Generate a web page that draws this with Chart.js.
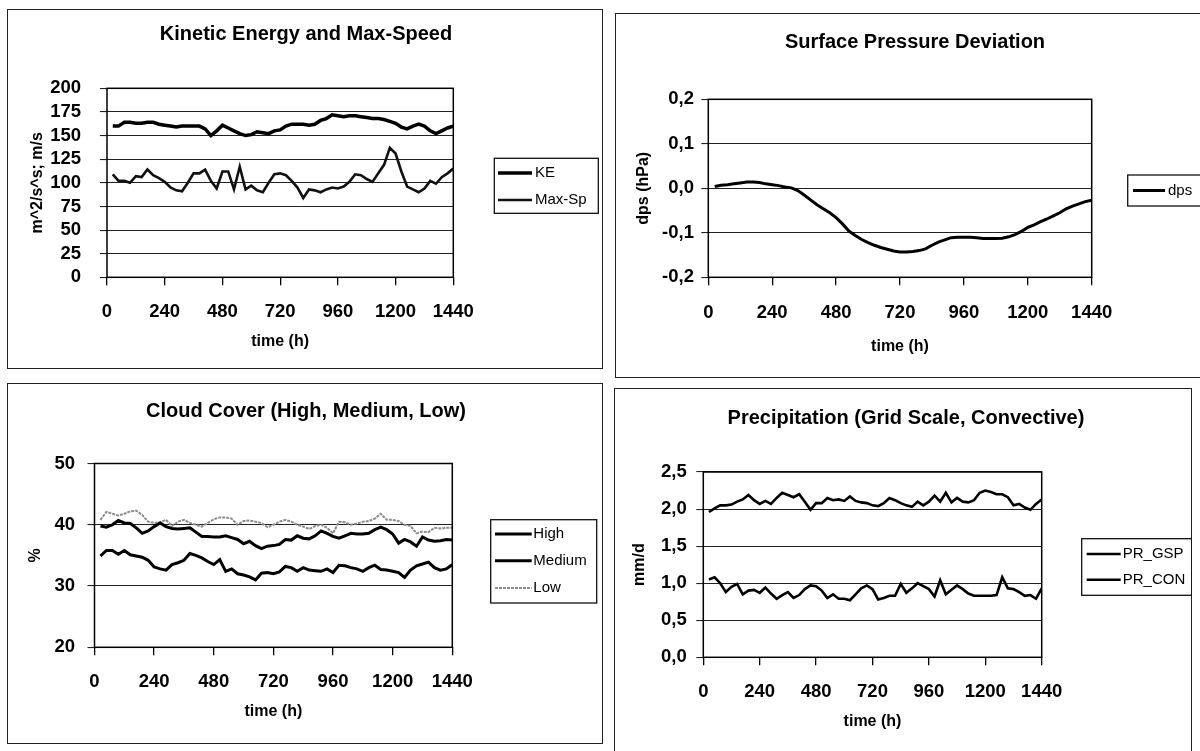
<!DOCTYPE html>
<html>
<head>
<meta charset="utf-8">
<script src="https://cdn.jsdelivr.net/npm/chart.js@4/dist/chart.umd.min.js"></script>
<style>
html,body{margin:0;padding:0;background:#fff;overflow:hidden}
body{width:1200px;height:751px;position:relative}
.painel{position:absolute;border:1.5px solid #222;box-sizing:border-box}
canvas{position:absolute}
</style>
</head>
<body>

<div class="painel" style="left:7px;top:9px;width:596px;height:360px"></div>
<div class="painel" style="left:615px;top:13px;width:600px;height:365px"></div>
<div class="painel" style="left:7px;top:383px;width:596px;height:361px"></div>
<div class="painel" style="left:614px;top:388px;width:578px;height:380px"></div>

<canvas id="graficoEnergia" width="596" height="360" style="left:7px;top:9px"></canvas>
<canvas id="graficoPressao" width="600" height="365" style="left:615px;top:13px"></canvas>
<canvas id="graficoNuvens" width="596" height="361" style="left:7px;top:383px"></canvas>
<canvas id="graficoPrecip" width="578" height="380" style="left:614px;top:388px"></canvas>

<script>

// tempo (h) - um ponto por dia
const tempo=[24,48,72,96,120,144,168,192,216,240,264,288,312,336,360,384,408,432,456,480,
504,528,552,576,600,624,648,672,696,720,744,768,792,816,840,864,888,912,936,960,
984,1008,1032,1056,1080,1104,1128,1152,1176,1200,1224,1248,1272,1296,1320,1344,1368,1392,1416,1440]

const ticksTempo=[0,240,480,720,960,1200,1440]
const ticksEnergia=[0,25,50,75,100,125,150,175,200]
const ticksPressao=[-0.2,-0.1,0,0.1,0.2]
const ticksNuvens=[20,30,40,50]
const ticksPrecip=[0,0.5,1,1.5,2,2.5]

// Kinetic Energy and Max-Speed
const energiaKE=[160,160,164,164,163,163,164,164,162,161,
160,159,160,160,160,160,157,150,155,161,
158,155,152,150,151,154,153,152,155,156,
160,162,162,162,161,162,166,168,172,171,
170,171,171,170,169,168,168,167,165,163,
159,157,160,162,160,155,152,155,158,160]

const maxSpeed=[109,102,102,100,107,106,114,108,105,101,
95,92,91,100,110,110,114,102,94,112,
112,93,117,93,97,92,90,100,109,110,
108,102,95,84,93,92,90,93,95,94,
96,101,109,108,104,101,110,119,137,131,
112,96,93,90,94,102,99,106,110,115]

// Surface Pressure Deviation
const dps=[0.004,0.007,0.008,0.010,0.012,0.014,0.014,0.013,0.010,0.008,
0.006,0.003,0.001,-0.005,-0.015,-0.026,-0.037,-0.046,-0.055,-0.066,
-0.080,-0.096,-0.106,-0.115,-0.122,-0.128,-0.133,-0.137,-0.141,-0.143,
-0.143,-0.142,-0.140,-0.136,-0.128,-0.121,-0.116,-0.111,-0.110,-0.110,
-0.110,-0.111,-0.113,-0.113,-0.113,-0.112,-0.109,-0.104,-0.097,-0.088,
-0.082,-0.075,-0.069,-0.062,-0.055,-0.046,-0.040,-0.035,-0.030,-0.027]

// Cloud Cover
const nuvemAlta=[39.8,39.6,40.0,40.7,40.3,40.2,39.5,38.6,39.0,39.7,
40.3,39.7,39.4,39.3,39.4,39.5,38.8,38.1,38.1,38.0,
38.0,38.2,37.9,37.6,36.9,37.3,36.6,36.1,36.5,36.6,
36.8,37.6,37.5,38.2,37.8,37.7,38.2,39.0,38.6,38.1,
37.8,38.2,38.6,38.5,38.5,38.6,39.2,39.6,39.2,38.5,
37.0,37.6,37.2,36.5,38.0,37.5,37.3,37.4,37.6,37.5]

const nuvemMedia=[34.9,35.8,35.8,35.2,35.8,35.1,34.9,34.7,34.2,33.1,
32.8,32.6,33.5,33.8,34.2,35.3,35.0,34.6,34.0,33.5,
34.3,32.4,32.8,32.0,31.8,31.5,31.0,32.1,32.2,32.0,
32.3,33.2,33.0,32.4,33.0,32.6,32.5,32.4,32.8,32.2,
33.4,33.3,33.0,32.8,32.4,33.0,33.4,32.7,32.6,32.4,
32.2,31.4,32.6,33.3,33.6,33.9,33.0,32.6,32.8,33.5]

const nuvemBaixa=[40.8,42.1,41.8,41.5,41.8,42.2,42.3,41.6,40.5,40.3,
40.4,40.8,39.8,40.5,40.8,40.3,40.0,39.7,40.3,40.9,
41.2,41.2,41.0,40.0,40.6,40.7,40.5,40.3,39.6,40.0,
40.5,40.8,40.5,40.0,39.7,39.3,39.8,40.0,39.5,38.6,
40.5,40.4,40.0,40.2,40.5,40.6,41.0,41.8,40.8,40.8,
40.6,40.0,39.8,38.6,38.9,38.8,39.5,39.4,39.5,39.5]

// Precipitation
const precGSP=[1.96,2.01,2.05,2.05,2.06,2.10,2.13,2.19,2.12,2.07,
2.11,2.07,2.15,2.22,2.19,2.16,2.20,2.10,1.99,2.08,
2.08,2.15,2.12,2.13,2.11,2.17,2.11,2.09,2.08,2.05,
2.04,2.08,2.15,2.12,2.08,2.05,2.03,2.10,2.05,2.10,
2.18,2.10,2.22,2.09,2.15,2.10,2.09,2.12,2.22,2.25,
2.23,2.20,2.20,2.16,2.05,2.07,2.02,1.99,2.07,2.13]

const precCON=[1.05,1.08,1.00,0.88,0.95,0.99,0.85,0.90,0.91,0.87,
0.94,0.86,0.79,0.84,0.88,0.80,0.84,0.92,0.97,0.96,
0.90,0.80,0.85,0.79,0.79,0.77,0.85,0.93,0.97,0.92,
0.78,0.80,0.83,0.83,0.99,0.87,0.93,1.00,0.96,0.92,
0.82,1.04,0.85,0.91,0.97,0.92,0.86,0.83,0.83,0.83,
0.83,0.84,1.08,0.93,0.92,0.88,0.83,0.84,0.79,0.93]

const fonte="'Liberation Sans', Arial, Helvetica, sans-serif"

function virgula(v){
if(Math.abs(v)<1e-9) v=0
return v.toFixed(1).replace(".",",")
}

// moldura da area, titulo e legenda com caixa
const moldura={
id:"moldura",
afterDraw(chart,args,op){
const ctx=chart.ctx
const a=chart.chartArea
ctx.save()
ctx.strokeStyle="#000"
ctx.lineWidth=1.5
ctx.strokeRect(a.left,a.top,a.right-a.left,a.bottom-a.top)

ctx.fillStyle="#000"
ctx.font="bold 20px "+fonte
ctx.textAlign="center"
ctx.textBaseline="middle"
ctx.fillText(op.titulo,op.tx,op.ty)

const L=op.legenda
ctx.fillStyle="#fff"
ctx.fillRect(L.x,L.y,L.w,L.h)
ctx.strokeStyle="#111"
ctx.lineWidth=1.3
ctx.strokeRect(L.x,L.y,L.w,L.h)

chart.data.datasets.forEach((ds,i)=>{
let y=L.itens[i]
ctx.beginPath()
ctx.strokeStyle=ds.borderColor
ctx.lineWidth=ds.borderWidth
ctx.setLineDash(ds.borderDash||[])
ctx.moveTo(L.x0,y)
ctx.lineTo(L.x1,y)
ctx.stroke()
ctx.setLineDash([])
ctx.fillStyle="#000"
ctx.font="15px "+fonte
ctx.textAlign="left"
ctx.fillText(ds.label,L.tx,y)
})
ctx.restore()
}
}

function grafico(cfg){

new Chart(document.getElementById(cfg.id),{

type:"line",

data:{
datasets:cfg.series.map(s=>({
label:s.nome,
data:tempo.map((t,i)=>({x:t,y:s.valores[i]})),
borderColor:s.cor,
borderWidth:s.largura,
borderDash:s.tracejado||[],
pointRadius:0,
tension:0,
fill:false
}))
},

options:{
responsive:false,
animation:false,
layout:{padding:{left:0,top:cfg.area.top,right:cfg.largura-cfg.area.right,bottom:0}},
plugins:{
legend:{display:false},
tooltip:{enabled:false},
moldura:{titulo:cfg.titulo,tx:cfg.tx,ty:cfg.ty,legenda:cfg.legenda}
},
scales:{
x:{
type:"linear",
min:0,
max:1440,
afterFit:s=>{s.height=cfg.altura-cfg.area.bottom},
afterBuildTicks:s=>{s.ticks=ticksTempo.map(v=>({value:v}))},
ticks:{color:"#000",font:{family:fonte,size:18.5,weight:"bold"},padding:cfg.padX,maxRotation:0,autoSkip:false,callback:v=>String(v)},
grid:{drawOnChartArea:false,drawTicks:true,tickLength:8,color:"#000",lineWidth:1.3},
border:{display:false},
title:{display:true,text:"time (h)",color:"#000",font:{family:fonte,size:16,weight:"bold"},padding:{top:0,bottom:cfg.padTituloX}}
},
y:{
min:cfg.yMin,
max:cfg.yMax,
afterFit:s=>{s.width=cfg.area.left},
afterBuildTicks:s=>{s.ticks=cfg.yTicks.map(v=>({value:v}))},
ticks:{color:"#000",font:{family:fonte,size:18.5,weight:"bold"},padding:cfg.padY,autoSkip:false,callback:cfg.formato},
grid:{color:"#222",lineWidth:1.1,tickLength:7},
border:{display:false},
title:{display:true,text:cfg.tituloY,color:"#000",font:{family:fonte,size:16,weight:"bold"},padding:{top:cfg.padTituloY,bottom:0}}
}
}
},

plugins:[moldura]

})

}

grafico({
id:"graficoEnergia",largura:596,altura:360,
area:{left:100,top:79.3,right:446.3,bottom:268.3},
padX:15.3,padY:19,padTituloX:17.4,padTituloY:21.4,
titulo:"Kinetic Energy and Max-Speed",tx:299,ty:25,
tituloY:"m^2/s^s; m/s",
yMin:0,yMax:200,yTicks:ticksEnergia,formato:v=>String(v),
legenda:{x:487.3,y:149.3,w:104,h:55,itens:[164,191],x0:491,x1:525,tx:528},
series:[
{nome:"KE",valores:energiaKE,cor:"#000",largura:3.5},
{nome:"Max-Sp",valores:maxSpeed,cor:"#111",largura:2.6}
]
})

grafico({
id:"graficoPressao",largura:600,altura:365,
area:{left:93.3,top:86.3,right:476.7,bottom:264.3},
padX:16.6,padY:7.3,padTituloX:21.4,padTituloY:19.4,
titulo:"Surface Pressure Deviation",tx:300,ty:29.7,
tituloY:"dps (hPa)",
yMin:-0.2,yMax:0.2,yTicks:ticksPressao,formato:v=>virgula(v),
legenda:{x:512.7,y:162,w:80,h:31,itens:[177.5],x0:518,x1:550,tx:553},
series:[
{nome:"dps",valores:dps,cor:"#000",largura:3}
]
})

grafico({
id:"graficoNuvens",largura:596,altura:361,
area:{left:87.5,top:80.5,right:445.3,bottom:264.3},
padX:15.3,padY:12.5,padTituloX:22.4,padTituloY:19.4,
titulo:"Cloud Cover (High, Medium, Low)",tx:299,ty:28,
tituloY:"%",
yMin:20,yMax:50,yTicks:ticksNuvens,formato:v=>String(v),
legenda:{x:483.7,y:136.7,w:106,h:83.3,itens:[151,177.7,205],x0:488,x1:524.7,tx:526.3},
series:[
{nome:"High",valores:nuvemAlta,cor:"#000",largura:3},
{nome:"Medium",valores:nuvemMedia,cor:"#000",largura:3},
{nome:"Low",valores:nuvemBaixa,cor:"#8c8c8c",largura:2,tracejado:[3,1]}
]
})

grafico({
id:"graficoPrecip",largura:578,altura:380,
area:{left:89.3,top:84,right:427.7,bottom:269.3},
padX:15.3,padY:9.6,padTituloX:36.7,padTituloY:16.4,
titulo:"Precipitation (Grid Scale, Convective)",tx:292,ty:30,
tituloY:"mm/d",
yMin:0,yMax:2.5,yTicks:ticksPrecip,formato:v=>virgula(v),
legenda:{x:467.7,y:150.7,w:110,h:56.6,itens:[166,191.7],x0:472.7,x1:506.7,tx:508.7},
series:[
{nome:"PR_GSP",valores:precGSP,cor:"#000",largura:2.6},
{nome:"PR_CON",valores:precCON,cor:"#000",largura:2.6}
]
})

</script>
</body>
</html>
